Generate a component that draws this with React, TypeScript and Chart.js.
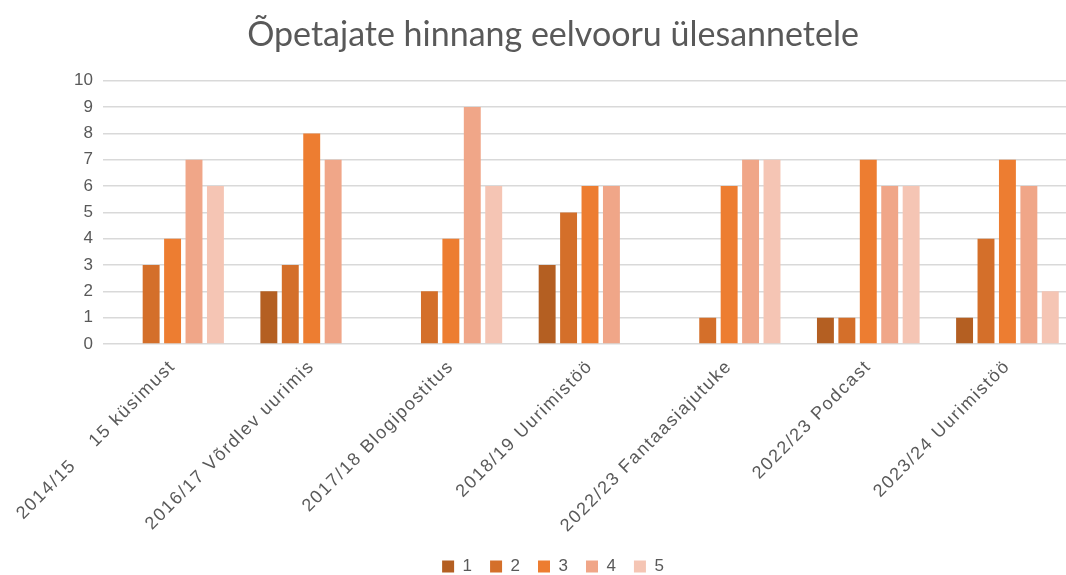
import React, { useEffect, useRef } from "react";
import { Chart, registerables } from "chart.js";

Chart.register(...registerables);

const categories = [
  "2014/15    15 küsimust",
  "2016/17 Võrdlev uurimis",
  "2017/18 Blogipostitus",
  "2018/19 Uurimistöö",
  "2022/23 Fantaasiajutuke",
  "2022/23 Podcast",
  "2023/24 Uurimistöö",
];

const seriesNames = ["1", "2", "3", "4", "5"];
const s1 = [0, 2, 0, 3, 0, 1, 1];
const s2 = [3, 3, 2, 5, 1, 1, 4];
const s3 = [4, 8, 4, 6, 6, 7, 7];
const s4 = [7, 7, 9, 6, 7, 6, 6];
const s5 = [6, 0, 6, 0, 7, 6, 2];
const seriesColors = ["#B45F22", "#D46F2A", "#ED7D31", "#F0A688", "#F5C5B4"];
const yTicks = [0, 1, 2, 3, 4, 5, 6, 7, 8, 9, 10];

const CW = 1106;
const CH = 585;

const spacingPlugin = {
  id: "xLabelSpacing",
  afterDatasetsDraw(chart: any) {
    (chart.ctx as any).letterSpacing = "1.6px";
  },
  afterDraw(chart: any) {
    (chart.ctx as any).letterSpacing = "0px";
  },
};

export default function App() {
  const ref = useRef<HTMLCanvasElement | null>(null);
  useEffect(() => {
    if (!ref.current) return;
    const values = [s1, s2, s3, s4, s5];
    const chart = new Chart(ref.current, {
      type: "bar",
      data: {
        labels: categories,
        datasets: values.map((v, i) => ({
          label: seriesNames[i],
          data: v,
          backgroundColor: seriesColors[i],
          borderWidth: 0,
          categoryPercentage: 0.77,
          barPercentage: 0.79,
        })),
      },
      plugins: [spacingPlugin],
      options: {
        responsive: false,
        animation: false,
        layout: { padding: 0 },
        plugins: {
          title: {
            display: true,
            text: "Õpetajate hinnang eelvooru ülesannetele",
            color: "#595959",
            font: { family: "Lato", size: 34, weight: "normal" },
            padding: { top: 15, bottom: 25 },
          },
          legend: {
            position: "bottom",
            labels: {
              boxWidth: 12,
              boxHeight: 12,
              padding: 18,
              color: "#595959",
              font: { family: "Liberation Sans", size: 17 },
            },
          },
          tooltip: { enabled: false },
        },
        scales: {
          x: {
            grid: { display: false, drawTicks: false },
            border: { display: false },
            ticks: {
              z: 1,
              color: "#595959",
              font: { family: "Liberation Sans", size: 18 },
              maxRotation: 45,
              minRotation: 45,
              padding: 12,
              autoSkip: false,
            },
            afterFit: (scale: any) => {
              scale.height = 196;
            },
          },
          y: {
            min: 0,
            max: 10,
            afterBuildTicks: (scale: any) => {
              scale.ticks = yTicks.map((v) => ({ value: v }));
            },
            grid: { color: "#D9D9D9", lineWidth: 1.5, drawTicks: false },
            border: { display: false },
            ticks: {
              color: "#595959",
              font: { family: "Liberation Sans", size: 17 },
              padding: 10,
            },
            afterFit: (scale: any) => {
              scale.width = 103;
            },
          },
          yRight: {
            position: "right",
            min: 0,
            max: 10,
            grid: { display: false, drawTicks: false },
            border: { display: false },
            ticks: { display: false },
            afterFit: (scale: any) => {
              scale.width = 29;
            },
          },
        },
      },
    });
    return () => chart.destroy();
  }, []);
  return (
    <div
      style={{
        position: "fixed",
        left: 0,
        top: 0,
        width: 1066,
        height: 575,
        overflow: "hidden",
        background: "#fff",
      }}
    >
      <canvas ref={ref} width={CW} height={CH} style={{ display: "block" }} />
    </div>
  );
}
